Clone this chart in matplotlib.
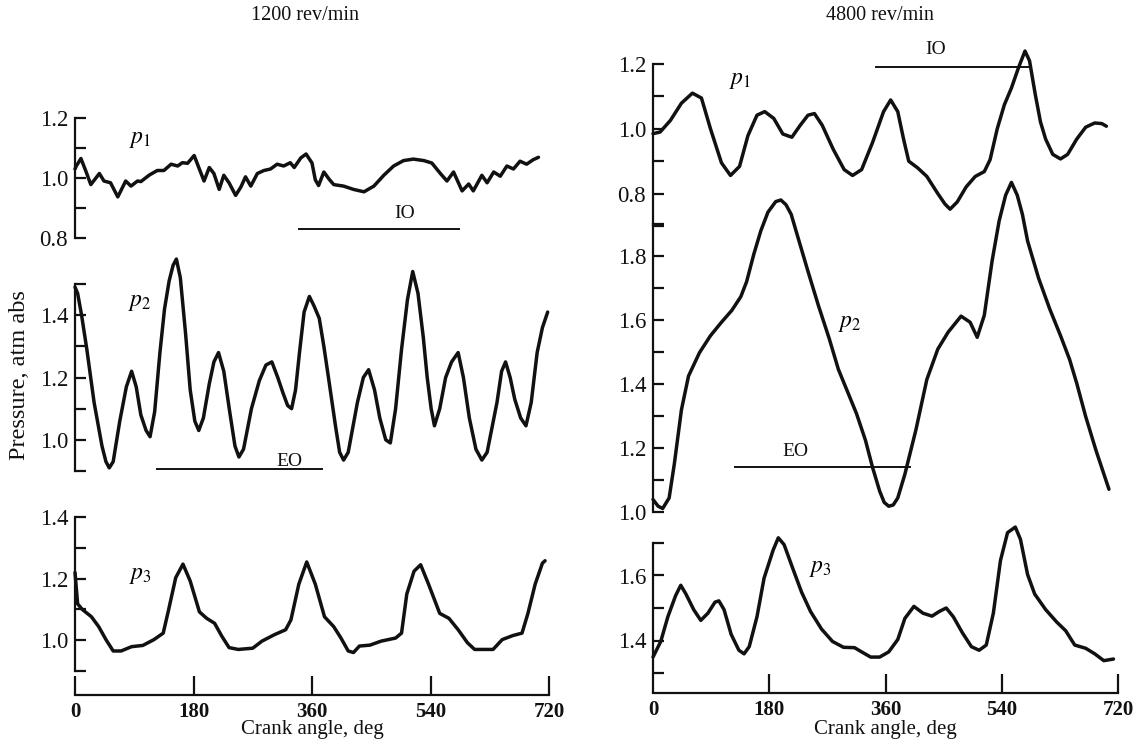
import matplotlib.pyplot as plt

plt.rcParams['font.family'] = ['Liberation Serif', 'DejaVu Serif']
plt.rcParams['mathtext.fontset'] = 'stix'

W, H = 1143, 742

# ---- 1200 rev/min (left column) ----
l_p1_deg = [0, 2, 9, 17, 24, 37, 44, 54, 65, 77, 85, 95, 100, 113, 125, 135, 146, 156, 163, 171,
            181, 188, 196, 204, 211, 219, 226, 234, 244, 252, 259, 267, 277, 287, 297, 307, 317,
            327, 333, 343, 351, 360, 365, 370, 378, 386, 393, 408, 423, 439, 454, 469, 484, 499,
            514, 530, 542, 555, 565, 575, 588, 598, 605, 618, 626, 636, 646, 656, 666, 676, 686,
            696, 704]
l_p1 = [1.03, 1.04, 1.065, 1.02, 0.978, 1.015, 0.99, 0.984, 0.937, 0.99, 0.973, 0.99, 0.988, 1.01,
        1.025, 1.025, 1.046, 1.04, 1.051, 1.049, 1.075, 1.035, 0.99, 1.035, 1.015, 0.962, 1.009,
        0.984, 0.942, 0.97, 1.004, 0.973, 1.015, 1.025, 1.03, 1.046, 1.04, 1.051, 1.035, 1.067,
        1.08, 1.05, 0.994, 0.975, 1.02, 0.996, 0.978, 0.973, 0.962, 0.954, 0.973, 1.009, 1.04,
        1.058, 1.063, 1.058, 1.05, 1.015, 0.99, 1.02, 0.957, 0.98, 0.957, 1.009, 0.984, 1.02,
        1.006, 1.04, 1.03, 1.056, 1.046, 1.061, 1.069]

l_p2_deg = [0, 4, 10, 18, 29, 41, 47, 52, 58, 68, 78, 86, 93, 100, 108, 114, 121, 129, 136, 143,
            149, 154, 160, 168, 175, 182, 188, 195, 204, 211, 218, 226, 235, 243, 249, 256, 268,
            280, 290, 299, 308, 316, 323, 329, 335, 341, 348, 356, 363, 371, 378, 385, 396, 402,
            408, 415, 429, 438, 446, 455, 463, 472, 479, 487, 496, 505, 513, 521, 529, 535, 541,
            546, 554, 563, 572, 582, 590, 599, 609, 618, 626, 641, 648, 654, 661, 668, 677, 685,
            693, 702, 710, 718]
l_p2 = [1.49, 1.47, 1.40, 1.29, 1.12, 0.98, 0.93, 0.91, 0.93, 1.06, 1.17, 1.22, 1.17, 1.08, 1.03,
        1.01, 1.09, 1.28, 1.42, 1.51, 1.56, 1.58, 1.52, 1.34, 1.16, 1.06, 1.03, 1.07, 1.18, 1.25,
        1.28, 1.22, 1.09, 0.98, 0.945, 0.97, 1.10, 1.19, 1.24, 1.25, 1.20, 1.15, 1.11, 1.10, 1.16,
        1.28, 1.41, 1.46, 1.43, 1.39, 1.30, 1.20, 1.04, 0.96, 0.935, 0.96, 1.12, 1.20, 1.225, 1.16,
        1.07, 1.00, 0.99, 1.10, 1.29, 1.45, 1.54, 1.47, 1.33, 1.20, 1.10, 1.045, 1.10, 1.20, 1.25,
        1.28, 1.20, 1.07, 0.97, 0.935, 0.96, 1.12, 1.22, 1.25, 1.20, 1.13, 1.07, 1.045, 1.12, 1.28,
        1.36, 1.41]

l_p3_deg = [0, 4, 11, 25, 36, 47, 58, 70, 86, 103, 120, 134, 142, 153, 164, 175, 189, 200, 212,
            223, 234, 248, 270, 284, 303, 320, 328, 340, 352, 365, 379, 393, 404, 415, 423, 432,
            448, 465, 487, 496, 504, 515, 525, 537, 554, 568, 582, 596, 607, 621, 635, 649, 665,
            679, 688, 699, 710, 714]
l_p3 = [1.22, 1.118, 1.10, 1.076, 1.044, 1.002, 0.965, 0.965, 0.979, 0.983, 1.002, 1.023, 1.097,
        1.203, 1.247, 1.192, 1.092, 1.071, 1.055, 1.013, 0.976, 0.97, 0.974, 0.997, 1.018, 1.034,
        1.066, 1.182, 1.254, 1.182, 1.076, 1.044, 1.007, 0.965, 0.96, 0.981, 0.984, 0.997, 1.007,
        1.023, 1.15, 1.224, 1.245, 1.182, 1.087, 1.071, 1.034, 0.992, 0.97, 0.97, 0.97, 1.002,
        1.015, 1.023, 1.087, 1.182, 1.25, 1.258]

# ---- 4800 rev/min (right column) ----
r_p1_deg = [0, 11, 27, 44, 61, 75, 89, 106, 120, 134, 147, 161, 173, 187, 201, 215, 228, 240, 250,
            262, 279, 296, 309, 323, 340, 357, 368, 379, 388, 396, 410, 424, 441, 452, 460, 471,
            485, 499, 513, 522, 533, 544, 555, 566, 576, 583, 592, 600, 608, 619, 631, 642, 656,
            670, 684, 695, 702]
r_p1 = [0.985, 0.99, 1.026, 1.079, 1.11, 1.095, 1.0, 0.895, 0.856, 0.884, 0.979, 1.042, 1.053,
        1.032, 0.984, 0.974, 1.011, 1.042, 1.047, 1.011, 0.937, 0.874, 0.856, 0.874, 0.958, 1.053,
        1.089, 1.053, 0.968, 0.9, 0.879, 0.853, 0.8, 0.768, 0.752, 0.774, 0.821, 0.853, 0.868,
        0.905, 1.0, 1.074, 1.126, 1.189, 1.24, 1.21, 1.105, 1.021, 0.968, 0.921, 0.907, 0.921,
        0.968, 1.005, 1.018, 1.016, 1.008]

r_p2_deg = [0, 8, 15, 25, 33, 44, 55, 72, 89, 106, 122, 136, 145, 156, 167, 178, 190, 198, 206,
            214, 223, 240, 256, 273, 287, 301, 315, 329, 340, 351, 358, 365, 372, 379, 390, 407,
            424, 441, 457, 477, 491, 502, 513, 525, 536, 546, 555, 564, 572, 580, 597, 614, 631,
            645, 656, 670, 686, 706]
r_p2 = [1.039, 1.018, 1.011, 1.044, 1.15, 1.319, 1.425, 1.498, 1.551, 1.593, 1.63, 1.673, 1.72,
        1.805, 1.879, 1.937, 1.97, 1.975, 1.96, 1.93, 1.868, 1.752, 1.646, 1.541, 1.446, 1.377,
        1.308, 1.224, 1.139, 1.065, 1.03, 1.018, 1.022, 1.044, 1.118, 1.256, 1.414, 1.509, 1.562,
        1.612, 1.593, 1.546, 1.615, 1.784, 1.91, 1.99, 2.03, 1.99, 1.93, 1.847, 1.731, 1.636,
        1.551, 1.477, 1.403, 1.298, 1.192, 1.071]

r_p3_deg = [0, 12, 23, 35, 43, 51, 63, 74, 85, 96, 102, 110, 121, 133, 141, 149, 161, 172, 186,
            194, 203, 216, 230, 244, 261, 278, 295, 312, 323, 337, 351, 365, 379, 390, 404, 418,
            432, 443, 454, 465, 479, 493, 505, 516, 527, 538, 549, 561, 569, 580, 591, 608, 625,
            639, 653, 670, 684, 698, 713]
r_p3 = [1.349, 1.397, 1.473, 1.538, 1.57, 1.543, 1.495, 1.462, 1.484, 1.518, 1.522, 1.495, 1.419,
        1.37, 1.359, 1.381, 1.473, 1.592, 1.678, 1.716, 1.695, 1.624, 1.549, 1.489, 1.435, 1.397,
        1.379, 1.378, 1.365, 1.349, 1.349, 1.365, 1.403, 1.468, 1.505, 1.484, 1.475, 1.489, 1.5,
        1.473, 1.424, 1.381, 1.37, 1.386, 1.484, 1.646, 1.732, 1.749, 1.711, 1.603, 1.543, 1.495,
        1.457, 1.43, 1.386, 1.376, 1.359, 1.338, 1.343]

# valve-open bars (start deg, end deg, level)
l_io = [341, 584, 0.83]
l_eo = [124, 375, 0.905]
r_io = [345, 583, 1.19]
r_eo = [127, 398, 1.14]

INK = '#111111'


def add_panel(fig, x0, x1, ytop, ybot, lo, hi, ticks, labels):
    ax = fig.add_axes([x0 / W, 1 - ybot / H, (x1 - x0) / W, (ybot - ytop) / H])
    ax.set_xlim(0, 720)
    ax.set_ylim(lo, hi)
    ax.patch.set_visible(False)
    for s in ['top', 'right', 'bottom']:
        ax.spines[s].set_visible(False)
    ax.spines['left'].set_linewidth(1.6)
    ax.spines['left'].set_color(INK)
    ax.set_xticks([])
    ax.set_yticks(ticks)
    ax.set_yticklabels(labels)
    ax.tick_params(axis='y', direction='in', length=8, width=1.6, color=INK,
                   labelsize=16.5, pad=5, labelcolor=INK)
    return ax


def add_xaxis(fig, x0, x1, y):
    ax = fig.add_axes([x0 / W, 1 - y / H, (x1 - x0) / W, 0.0001])
    ax.set_xlim(0, 720)
    ax.patch.set_visible(False)
    for s in ['top', 'right', 'left']:
        ax.spines[s].set_visible(False)
    ax.spines['bottom'].set_linewidth(1.6)
    ax.spines['bottom'].set_color(INK)
    ax.set_yticks([])
    ax.set_xticks([0, 180, 360, 540, 720])
    ax.set_xticklabels(['0', '180', '360', '540', '720'], fontweight='bold')
    ax.tick_params(axis='x', direction='in', length=14, width=1.6, color=INK,
                   labelsize=15, pad=5, labelcolor=INK)
    return ax


def curve(ax, d, v):
    ax.plot(d, v, color=INK, lw=2.5, clip_on=False, solid_joinstyle='round',
            solid_capstyle='round')


def bar(ax, b, name, tx, ty):
    ax.plot([b[0], b[1]], [b[2], b[2]], color=INK, lw=1.4, clip_on=False)
    ax.text(tx, ty, name, fontsize=14, ha='center', va='center', color=INK)


fig = plt.figure(figsize=(W / 100, H / 100), dpi=100)

# left column
LX0, LX1 = 75, 549
a = add_panel(fig, LX0, LX1, 118, 238, 0.8, 1.2, [0.8, 0.9, 1.0, 1.1, 1.2],
              ['0.8', '', '1.0', '', '1.2'])
curve(a, l_p1_deg, l_p1)
a.text(99, 1.127, r'$p_1$', fontsize=17, ha='center', va='center')
bar(a, l_io, 'IO', 500, 0.88)

a = add_panel(fig, LX0, LX1, 284, 471, 0.9, 1.5, [0.9, 1.0, 1.1, 1.2, 1.3, 1.4, 1.5],
              ['', '1.0', '', '1.2', '', '1.4', ''])
curve(a, l_p2_deg, l_p2)
a.text(99, 1.44, r'$p_2$', fontsize=17, ha='center', va='center')
bar(a, l_eo, 'EO', 326, 0.93)

a = add_panel(fig, LX0, LX1, 517, 671, 0.9, 1.4, [0.9, 1.0, 1.1, 1.2, 1.3, 1.4],
              ['', '1.0', '', '1.2', '', '1.4'])
curve(a, l_p3_deg, l_p3)
a.text(99, 1.21, r'$p_3$', fontsize=17, ha='center', va='center')

add_xaxis(fig, LX0, LX1, 695)

# right column
RX0, RX1 = 653, 1118
a = add_panel(fig, RX0, RX1, 64, 226, 0.7, 1.2, [0.7, 0.8, 0.9, 1.0, 1.1, 1.2],
              ['', '0.8', '', '1.0', '', '1.2'])
curve(a, r_p1_deg, r_p1)
a.text(135, 1.15, r'$p_1$', fontsize=17, ha='center', va='center')
bar(a, r_io, 'IO', 437, 1.245)

a = add_panel(fig, RX0, RX1, 224, 512, 1.0, 1.9,
              [1.0, 1.1, 1.2, 1.3, 1.4, 1.5, 1.6, 1.7, 1.8, 1.9],
              ['1.0', '', '1.2', '', '1.4', '', '1.6', '', '1.8', ''])
curve(a, r_p2_deg, r_p2)
a.text(305, 1.59, r'$p_2$', fontsize=17, ha='center', va='center')
bar(a, r_eo, 'EO', 220, 1.19)

a = add_panel(fig, RX0, RX1, 543, 673, 1.3, 1.7, [1.3, 1.4, 1.5, 1.6, 1.7],
              ['', '1.4', '', '1.6', ''])
curve(a, r_p3_deg, r_p3)
a.text(259, 1.623, r'$p_3$', fontsize=17, ha='center', va='center')

add_xaxis(fig, RX0, RX1, 693)

fig.text(305 / W, 1 - 16 / H, '1200 rev/min', fontsize=14.5, ha='center', va='center', color=INK)
fig.text(880 / W, 1 - 16 / H, '4800 rev/min', fontsize=14.5, ha='center', va='center', color=INK)
fig.text(312 / W, 1 - 739 / H, 'Crank angle, deg', fontsize=15, ha='center', va='bottom', color=INK)
fig.text(885 / W, 1 - 739 / H, 'Crank angle, deg', fontsize=15, ha='center', va='bottom', color=INK)
fig.text(20 / W, 1 - 375 / H, 'Pressure, atm abs', fontsize=17.5, rotation=90,
         ha='center', va='center', color=INK)

fig.savefig('out.png', dpi=100)
